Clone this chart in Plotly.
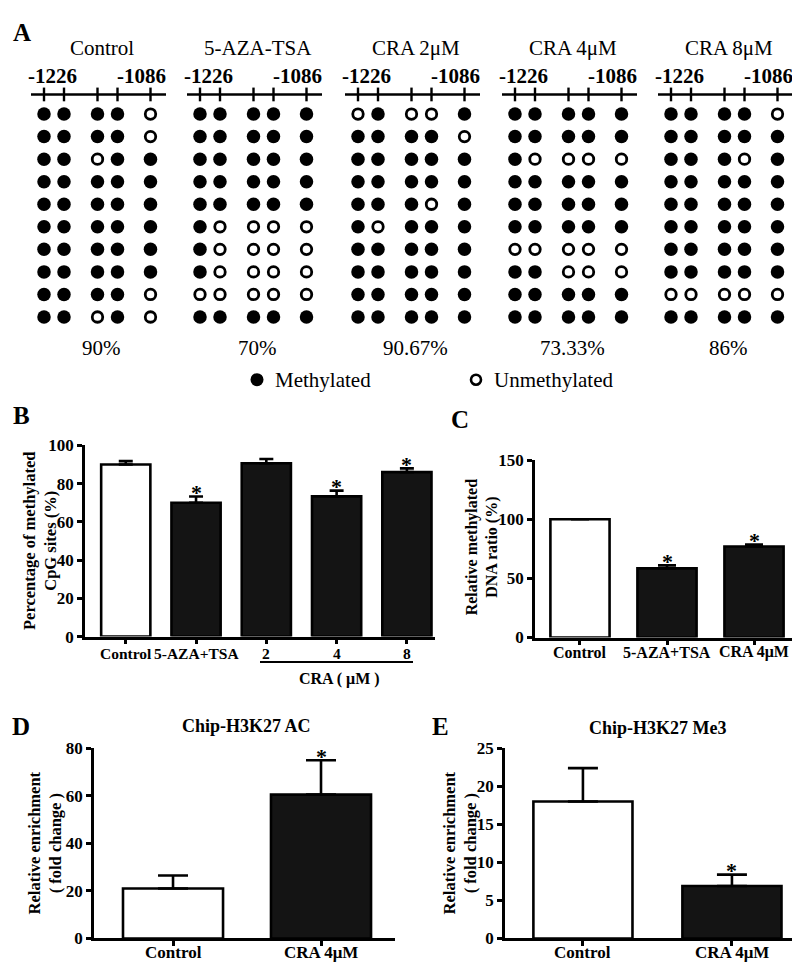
import plotly.graph_objects as go

FONT = "Liberation Serif, Times New Roman, serif"

# ---------------- DATA ----------------
# Panel A: bisulfite sequencing (1 = methylated, 0 = unmethylated), 10 clones x 5 CpG sites
groups = ["Control", "5-AZA-TSA", "CRA 2μM", "CRA 4μM", "CRA 8μM"]
region_start = "-1226"
region_end = "-1086"
pct_labels = ["90%", "70%", "90.67%", "73.33%", "86%"]
pattern_control = ["11110", "11110", "11011", "11111", "11111",
                   "11111", "11111", "11111", "11110", "11010"]
pattern_aza = ["11111", "11111", "11111", "11111", "11111",
               "10000", "10000", "10000", "00000", "11111"]
pattern_cra2 = ["01001", "11110", "11111", "11111", "11101",
                "10111", "11111", "11111", "11111", "11111"]
pattern_cra4 = ["11111", "11111", "10000", "11111", "11111",
                "11111", "00000", "11000", "11111", "11111"]
pattern_cra8 = ["11110", "11111", "11101", "11111", "11111",
                "11111", "11111", "11111", "00000", "11111"]
patterns = [pattern_control, pattern_aza, pattern_cra2, pattern_cra4, pattern_cra8]
legend_labels = ["Methylated", "Unmethylated"]

# Panel B
b_categories = ["Control", "5-AZA+TSA", "2", "4", "8"]
b_values = [90, 70, 90.67, 73.33, 86]
b_err = [1.8, 3.3, 2.2, 3.0, 2.0]
b_sig = [False, True, False, True, True]
b_ytitle = ["Percentage of methylated", "CpG sites (%)"]
b_group_label = "CRA ( μM )"

# Panel C
c_categories = ["Control", "5-AZA+TSA", "CRA 4μM"]
c_values = [100, 58.5, 77]
c_err = [0, 2.5, 1.6]
c_sig = [False, True, True]
c_ytitle = ["Relative methylated", "DNA ratio (%)"]

# Panel D
d_title = "Chip-H3K27 AC"
d_categories = ["Control", "CRA 4μM"]
d_values = [21, 60.5]
d_err = [5.5, 14.5]
d_sig = [False, True]

# Panel E
e_title = "Chip-H3K27 Me3"
e_categories = ["Control", "CRA 4μM"]
e_values = [18, 6.9]
e_err = [4.4, 1.5]
e_sig = [False, True]
de_ytitle = ["Relative enrichment", "( fold change )"]

# ---------------- LAYOUT HELPERS ----------------
W, H = 800, 965
def px(x):
    return x / W
def py(y):
    return 1 - y / H

BLACK = "#000000"
BARFILL = "#141414"
fig = go.Figure()
annotations = []
shapes = []

# ---------------- PANEL A ----------------
group_x0 = [36, 192, 350, 507, 663]
site_off = [0, 20, 53.5, 73.5, 106.5]
row_y0, row_step = 99, 23

fx, fy, ox, oy = [], [], [], []
for g, pat in enumerate(patterns):
    for i, row in enumerate(pat):
        for j, ch in enumerate(row):
            xx = group_x0[g] + site_off[j]
            yy = row_y0 + row_step * i
            if ch == "1":
                fx.append(xx); fy.append(yy)
            else:
                ox.append(xx); oy.append(yy)

fig.add_trace(go.Scatter(x=fx, y=fy, mode="markers", xaxis="x", yaxis="y",
                         marker=dict(symbol="circle", size=13.5, color=BLACK, line=dict(width=0)),
                         showlegend=False, hoverinfo="skip"))
fig.add_trace(go.Scatter(x=ox, y=oy, mode="markers", xaxis="x", yaxis="y",
                         marker=dict(symbol="circle", size=10.5, color="white",
                                     line=dict(width=2.8, color=BLACK)),
                         showlegend=False, hoverinfo="skip"))
# legend markers
fig.add_trace(go.Scatter(x=[249], y=[370], mode="markers", xaxis="x", yaxis="y",
                         marker=dict(symbol="circle", size=13, color=BLACK),
                         showlegend=False, hoverinfo="skip"))
fig.add_trace(go.Scatter(x=[468], y=[370], mode="markers", xaxis="x", yaxis="y",
                         marker=dict(symbol="circle", size=10, color="white",
                                     line=dict(width=2.6, color=BLACK)),
                         showlegend=False, hoverinfo="skip"))
annotations.append(dict(x=265, y=370, xref="x", yref="y", text=legend_labels[0], showarrow=False,
                        xanchor="left", yanchor="middle", font=dict(family=FONT, size=21, color=BLACK)))
annotations.append(dict(x=484, y=370, xref="x", yref="y", text=legend_labels[1], showarrow=False,
                        xanchor="left", yanchor="middle", font=dict(family=FONT, size=21, color=BLACK)))

for g in range(len(groups)):
    gx = group_x0[g]
    annotations.append(dict(x=gx + 58, y=32, xref="x", yref="y", text=groups[g], showarrow=False,
                            xanchor="center", yanchor="middle", font=dict(family=FONT, size=21, color=BLACK)))
    annotations.append(dict(x=gx + 8, y=60, xref="x", yref="y", text=region_start, showarrow=False,
                            xanchor="center", yanchor="middle",
                            font=dict(family=FONT, size=21, color=BLACK, weight="bold")))
    annotations.append(dict(x=gx + 97, y=60, xref="x", yref="y", text=region_end, showarrow=False,
                            xanchor="center", yanchor="middle",
                            font=dict(family=FONT, size=21, color=BLACK, weight="bold")))
    annotations.append(dict(x=gx + 57, y=338, xref="x", yref="y", text=pct_labels[g], showarrow=False,
                            xanchor="center", yanchor="middle", font=dict(family=FONT, size=21, color=BLACK)))
    shapes.append(dict(type="line", xref="x", yref="y", x0=gx - 13, x1=gx + 122, y0=79, y1=79,
                       line=dict(color=BLACK, width=2.6)))
    for so in site_off:
        shapes.append(dict(type="line", xref="x", yref="y", x0=gx + so, x1=gx + so, y0=72, y1=86,
                           line=dict(color=BLACK, width=2.4)))

# panel letters
for letter, lx, ly in [("A", 14, 16), ("B", 13, 407), ("C", 452, 411), ("D", 13, 724), ("E", 432, 724)]:
    annotations.append(dict(x=lx, y=ly, xref="x", yref="y", text=letter, showarrow=False,
                            xanchor="center", yanchor="middle",
                            font=dict(family=FONT, size=25, color=BLACK, weight="bold")))

# ---------------- BAR PANELS ----------------
def bar_panel(ax, cats, vals, errs, sig, fills, bar_w, cap_w, xr, yr, ytick, xdom, ydom, xfont, label_y):
    xa = "x" + ax
    ya = "y" + ax
    fig.add_trace(go.Bar(x=cats, y=vals, xaxis=xa, yaxis=ya, width=bar_w,
                         marker=dict(color=fills, line=dict(color=BLACK, width=2.6)),
                         error_y=dict(type="data", array=errs, arrayminus=[0] * len(errs),
                                      symmetric=False, color=BLACK, thickness=2.6, width=cap_w),
                         showlegend=False, hoverinfo="skip", cliponaxis=False))
    for idx, (c, v, e, s) in enumerate(zip(cats, vals, errs, sig)):
        # category tick label
        annotations.append(dict(x=idx, y=py(label_y), xref=xa, yref="paper", text=c, showarrow=False,
                                xanchor="center", yanchor="middle",
                                font=dict(family=FONT, size=xfont, color=BLACK, weight="bold")))
        if s:
            annotations.append(dict(x=idx, y=v + e, xref=xa, yref=ya, text="*", showarrow=False,
                                    xanchor="center", yanchor="middle", yshift=4,
                                    font=dict(family=FONT, size=22, color=BLACK, weight="bold")))
    axis_common = dict(showline=True, linecolor=BLACK, linewidth=2.6, ticks="outside",
                       ticklen=5, tickwidth=2.6, tickcolor=BLACK, showgrid=False, zeroline=False)
    fig.update_layout(**{
        "xaxis" + ax: dict(domain=[px(xdom[0]), px(xdom[1])], anchor=ya, type="category", range=xr,
                           showticklabels=False, **axis_common),
        "yaxis" + ax: dict(domain=[py(ydom[0]), py(ydom[1])], anchor=xa, range=yr, tickvals=ytick,
                           tickfont=dict(family=FONT, size=17, color=BLACK, weight="bold"),
                           **axis_common),
    })

W_, K_ = "white", BARFILL
bar_panel("2", b_categories, b_values, b_err, b_sig, [W_, K_, K_, K_, K_], 0.70, 7,
          [-0.58, 4.4], [0, 100], [0, 20, 40, 60, 80, 100], (77, 427), (632, 437), 15.5, 649)
bar_panel("3", c_categories, c_values, c_err, c_sig, [W_, K_, K_], 0.68, 9,
          [-0.517, 2.517], [0, 150], [0, 50, 100, 150], (527, 791), (633, 452), 16, 648)
bar_panel("4", d_categories, d_values, d_err, d_sig, [W_, K_], 0.676, 15,
          [-0.534, 1.5], [0, 80], [0, 20, 40, 60, 80], (86, 387), (940, 746), 17, 954)
bar_panel("5", e_categories, e_values, e_err, e_sig, [W_, K_], 0.665, 15,
          [-0.523, 1.45], [0, 25], [0, 5, 10, 15, 20, 25], (497, 791), (940, 746), 17, 954)

# y titles (rotated, two lines)
def ytitle(lines, xc, yc, size=16.5):
    annotations.append(dict(x=xc, y=yc, xref="x", yref="y", text="<br>".join(lines), showarrow=False,
                            textangle=-90, xanchor="center", yanchor="middle", align="center",
                            font=dict(family=FONT, size=size, color=BLACK, weight="bold")))

ytitle(b_ytitle, 32.5, 535)
ytitle(c_ytitle, 474, 541, 16)
ytitle(de_ytitle, 37, 843)
ytitle(de_ytitle, 452, 843)

# panel titles D/E
annotations.append(dict(x=238, y=723, xref="x", yref="y", text=d_title, showarrow=False,
                        font=dict(family=FONT, size=18, color=BLACK, weight="bold")))
annotations.append(dict(x=650, y=725, xref="x", yref="y", text=e_title, showarrow=False,
                        font=dict(family=FONT, size=18, color=BLACK, weight="bold")))

# CRA group underline in B
shapes.append(dict(type="line", xref="x", yref="y", x0=252, x1=405, y0=658, y1=658,
                   line=dict(color=BLACK, width=2)))
annotations.append(dict(x=331, y=675, xref="x", yref="y", text=b_group_label, showarrow=False,
                        font=dict(family=FONT, size=16, color=BLACK, weight="bold")))

fig.update_layout(
    width=W, height=H, autosize=False,
    margin=dict(l=0, r=0, t=0, b=0),
    paper_bgcolor="white", plot_bgcolor="rgba(0,0,0,0)",
    xaxis=dict(domain=[0, 1], range=[0, W], visible=False, fixedrange=True),
    yaxis=dict(domain=[0, 1], range=[H, 0], visible=False, fixedrange=True),
    annotations=annotations, shapes=shapes, showlegend=False,
    font=dict(family=FONT, color=BLACK),
)

fig.write_html("out.html")
